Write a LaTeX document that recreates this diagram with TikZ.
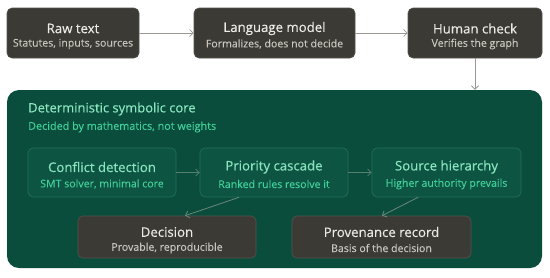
\documentclass[tikz,border=0pt]{standalone}
\usepackage{fontspec}
\setmainfont{Open Sans}
\newfontfamily\medfont[FakeBold=0.35]{Open Sans}
\newfontfamily\subfont[FakeBold=0.1]{Open Sans}
\usetikzlibrary{arrows.meta}
\definecolor{darkbox}{HTML}{3B3A35}
\definecolor{darkborder}{HTML}{55534C}
\definecolor{darktitle}{HTML}{ECEAE4}
\definecolor{darksub}{HTML}{C9C6BE}
\definecolor{coregreen}{HTML}{0B4D3C}
\definecolor{innerfill}{HTML}{0E5443}
\definecolor{innerborder}{HTML}{23705A}
\definecolor{gtitle}{HTML}{8AE5BE}
\definecolor{gsub}{HTML}{40CF97}
\definecolor{arrowgrey}{HTML}{9A9893}
\begin{document}
\begin{tikzpicture}[x=1pt,y=-1pt,
  darkstyle/.style={draw=darkborder,line width=0.6pt,fill=darkbox,rounded corners=5pt,minimum height=50pt,align=center,inner sep=0pt},
  innerstyle/.style={draw=innerborder,line width=0.6pt,fill=innerfill,rounded corners=5pt,minimum height=49pt,align=center,inner sep=0pt},
  decstyle/.style={draw=darkborder,line width=0.6pt,fill=darkbox,rounded corners=5pt,minimum height=42pt,align=center,inner sep=0pt},
  conn/.style={draw=arrowgrey,line width=0.8pt,-{Straight Barb[length=3.5pt,width=7pt]}},
  gconn/.style={draw=#1,line width=0.8pt,-{Straight Barb[length=3.5pt,width=7pt]}},
  ttl/.style={font=\medfont\fontsize{13.2}{15}\selectfont,inner sep=0pt},
  sub/.style={font=\subfont\fontsize{10.6}{12}\selectfont,inner sep=0pt}]
\useasboundingbox (0,0) rectangle (550,277);
\fill[white] (0,0) rectangle (550,277);
% top row
\node[darkstyle,minimum width=132pt] (raw) at (73,33) {};
\node[darkstyle,minimum width=161pt] (lm) at (274.5,33) {};
\node[darkstyle,minimum width=134pt] (hc) at (475,33) {};
\node[ttl,text=darktitle] (rawt) at (73,28.5) {Raw text};
\node[sub,text=darksub] (raws) at (73,44) {Statutes, inputs, sources};
\node[ttl,text=darktitle] (lmt) at (274.5,28.5) {Language model};
\node[sub,text=darksub] (lms) at (274.5,44) {Formalizes, does not decide};
\node[ttl,text=darktitle] (hct) at (475,28.5) {Human check};
\node[sub,text=darksub] (hcs) at (475,44) {Verifies the graph};
% core
\node[fill=coregreen,rounded corners=12pt,minimum width=535pt,minimum height=178pt,inner sep=0pt] (core) at (274.5,179) {};
\node[anchor=west,text=gtitle,font=\medfont\fontsize{13}{15}\selectfont,inner sep=0pt] (coret) at (28,109) {Deterministic symbolic core};
\node[anchor=west,text=gsub,font=\subfont\fontsize{10.8}{12}\selectfont,inner sep=0pt] (cores) at (28,127) {Decided by mathematics, not weights};
% inner boxes
\node[innerstyle,minimum width=148pt] (cd) at (102,172.5) {};
\node[innerstyle,minimum width=148pt] (pc) at (274,172.5) {};
\node[innerstyle,minimum width=149pt] (sh) at (446.5,172.5) {};
\node[ttl,text=gtitle] (cdt) at (102,167) {Conflict detection};
\node[sub,text=gsub] (cds) at (102,184) {SMT solver, minimal core};
\node[ttl,text=gtitle] (pct) at (274,167) {Priority cascade};
\node[sub,text=gsub] (pcs) at (274,184) {Ranked rules resolve it};
\node[ttl,text=gtitle] (sht) at (446.5,167) {Source hierarchy};
\node[sub,text=gsub] (shs) at (446.5,184) {Higher authority prevails};
% bottom boxes
\node[decstyle,minimum width=178pt] (dec) at (167,237) {};
\node[decstyle,minimum width=179pt] (prov) at (381.5,237) {};
\node[ttl,text=darktitle] (dect) at (167,232) {Decision};
\node[sub,text=darksub] (decs) at (167,248) {Provable, reproducible};
\node[ttl,text=darktitle] (provt) at (381.5,232) {Provenance record};
\node[sub,text=darksub] (provs) at (381.5,248) {Basis of the decision};
% connectors
\draw[conn] (raw.east) -- (lm.west);
\draw[conn] (lm.east) -- (hc.west);
\draw[conn] (hc.south) -- (core.north -| hc.south);
\draw[gconn=innerborder!60!arrowgrey] (cd.east) -- (pc.west);
\draw[gconn=innerborder!60!arrowgrey] (pc.east) -- (sh.west);
\coordinate (pcb) at (239,197);
\coordinate (decb) at (185,214);
\coordinate (shb) at (418,197);
\coordinate (provb) at (382,214);
\draw[gconn=innerborder!40!arrowgrey] (pc.south -| pcb) -- (dec.north -| decb);
\draw[gconn=innerborder!40!arrowgrey] (sh.south -| shb) -- (prov.north -| provb);
\end{tikzpicture}
\end{document}
